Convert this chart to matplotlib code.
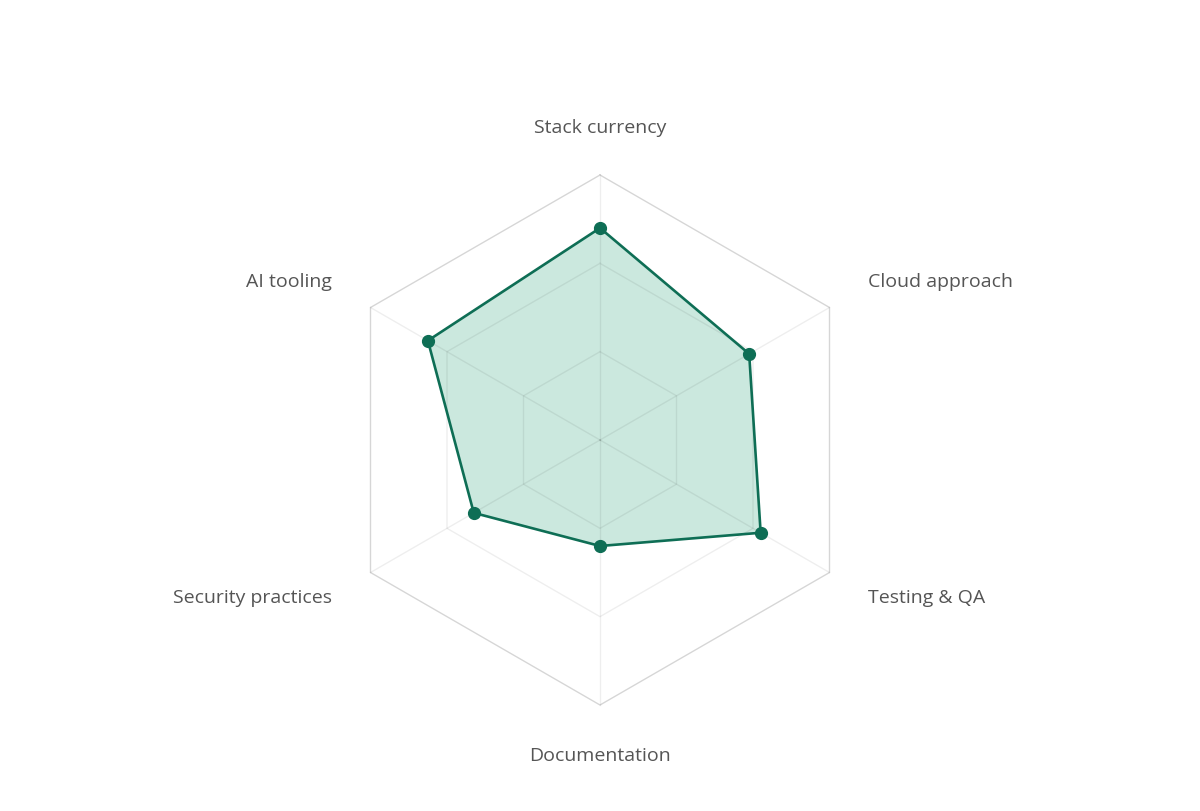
import numpy as np
import matplotlib
matplotlib.use("Agg")
import matplotlib.pyplot as plt

categories = ["Stack currency", "Cloud approach", "Testing & QA", "Documentation", "Security practices", "AI tooling"]
values = [80, 65, 70, 40, 55, 75]
max_value = 100
levels = [100/3, 200/3, 100]

line_color = "#0e6e55"
fill_color = "#cbe8de"
text_color = "#555555"

fig = plt.figure(figsize=(12, 8.12), dpi=100)
ax = fig.add_axes([0, 0, 1, 1])
R = 265.0
ax.set_xlim(-600 / R, 600 / R)
ax.set_ylim(-371 / R, 441 / R)
ax.axis("off")

n = len(categories)
angles = np.arange(n) * 2 * np.pi / n

def xy(r, a):
    return r * np.sin(a), r * np.cos(a)

# data fill
r = np.array(values) / max_value
xs, ys = xy(np.append(r, r[0]), np.append(angles, angles[0]))
ax.fill(xs, ys, color=fill_color, lw=0, zorder=1)

# grid
for i, lv in enumerate(levels):
    rr = lv / max_value
    gx, gy = xy(rr, np.append(angles, angles[0]))
    alpha = 0.16 if i == len(levels) - 1 else 0.065
    ax.plot(gx, gy, color="black", alpha=alpha, lw=1, zorder=2)
for a in angles:
    gx, gy = xy(np.array([0, 1.0]), a)
    ax.plot(gx, gy, color="black", alpha=0.065, lw=1, zorder=2)

# data line and points
ax.plot(xs, ys, color=line_color, lw=1.9, zorder=3)
ax.plot(xs[:-1], ys[:-1], "o", color=line_color, ms=8.5, zorder=4)

# labels
fs = 14
fam = ["Open Sans", "DejaVu Sans"]
label_pos = [
    (0, 313 / R, "center"),
    (268 / R, 159 / R, "left"),
    (268 / R, -157 / R, "left"),
    (0, -315 / R, "center"),
    (-268 / R, -157 / R, "right"),
    (-268 / R, 159 / R, "right"),
]
for cat, (lx, ly, ha) in zip(categories, label_pos):
    ax.text(lx, ly, cat, ha=ha, va="center", fontsize=fs, color=text_color, family=fam)

fig.savefig("out.png", dpi=100)
